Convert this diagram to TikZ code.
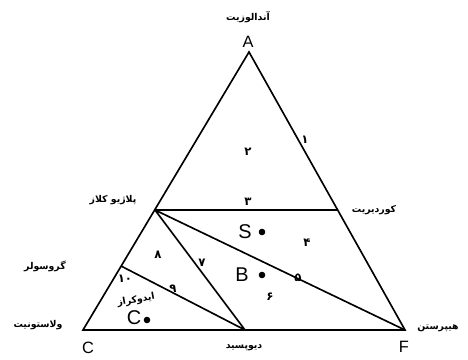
\documentclass[tikz,border=0pt]{standalone}
\usepackage{fontspec}
\newfontfamily\fafont[Script=Arabic]{DejaVu Sans}
\newfontfamily\latfont{Liberation Sans}
\TeXXeTstate=1
\tikzset{
  falabel/.style={font=\fafont\bfseries\fontsize{8}{9}\selectfont,inner sep=1pt},
  fanum/.style={font=\fafont\bfseries\fontsize{10}{11}\selectfont,inner sep=1pt},
  corner/.style={font=\latfont\fontsize{14}{15}\selectfont,inner sep=1pt},
  sample/.style={font=\latfont\fontsize{17}{18}\selectfont,inner sep=1pt}
}
\begin{document}
\begin{tikzpicture}[x=0.03cm,y=-0.03cm,line width=1.4pt]
    \useasboundingbox (0,0) rectangle (468,360);
    \path coordinate (a) at (249,52);
    \path coordinate (c) at (83,330);
    \path coordinate (f) at (405,330);
    \path coordinate (d) at (245,330);
    \path coordinate (p) at (155,210);
    \path coordinate (k) at (338,210);
    \path coordinate (g) at (121,266);
    \draw (a)--(c)--(f)--cycle;
    \draw (p)--(k) (p)--(d) (p)--(f) (g)--(d);
    \path coordinate (s) at (262,232);
    \fill [black] (s) circle (2.8pt);
    \path coordinate (b) at (262,275);
    \fill [black] (b) circle (2.8pt);
    \path coordinate (cc) at (147,320);
    \fill [black] (cc) circle (2.8pt);
    \node [corner] (la) at (248,42) {A};
    \node [corner] (lc) at (88,348) {C};
    \node [corner] (lf) at (404,347) {F};
    \node [sample] (ls) at (245,232) {S};
    \node [sample] (lb) at (242,275) {B};
    \node [sample] (lcc) at (134,318) {C};
    \node [falabel] (and) at (248,17) {\beginR آندالوزیت\endR};
    \node [falabel] (pla) at (113,200) {\beginR پلاژیو کلاز\endR};
    \node [falabel] (kor) at (374,210) {\beginR کوردیریت\endR};
    \node [falabel] (gro) at (45,266) {\beginR گروسولر\endR};
    \node [falabel] (vol) at (38,325) {\beginR ولاستونیت\endR};
    \node [falabel] (dio) at (244,348) {\beginR دیوپسید\endR};
    \node [falabel] (hip) at (438,328) {\beginR هیپرستن\endR};
    \node [falabel,rotate=10] (ido) at (136,300) {\beginR ایدوکراز\endR};
    \node [fanum] (n1) at (305,140) {۱};
    \node [fanum] (n2) at (248,152) {۲};
    \node [fanum] (n3) at (248,202) {۳};
    \node [fanum] (n4) at (307,243) {۴};
    \node [fanum] (n5) at (298,278) {۵};
    \node [fanum] (n6) at (270,297) {۶};
    \node [fanum] (n7) at (202,263) {۷};
    \node [fanum] (n8) at (158,255) {۸};
    \node [fanum] (n9) at (173,289) {۹};
    \node [fanum] (n10) at (125,279) {۱۰};
\end{tikzpicture}
\end{document}
